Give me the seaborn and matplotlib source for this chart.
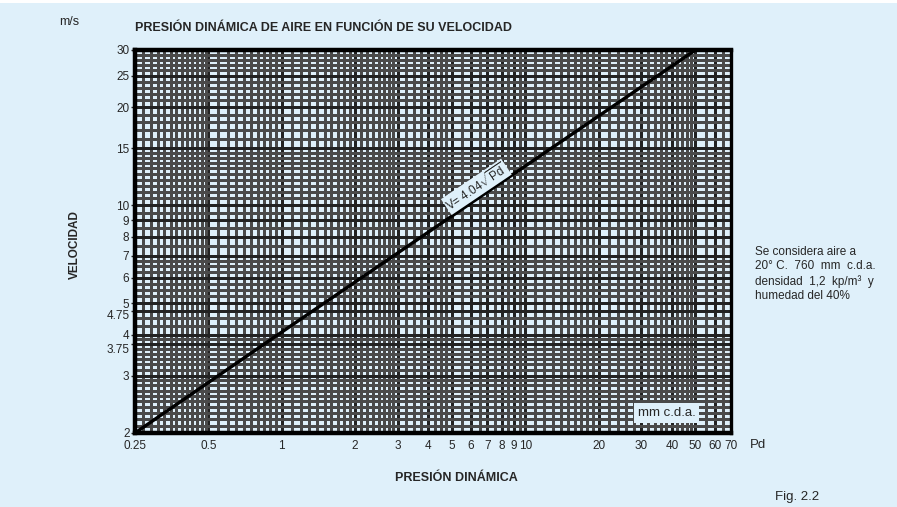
import matplotlib
matplotlib.use("Agg")
import matplotlib.pyplot as plt
import matplotlib.transforms as mtransforms
import numpy as np
import pandas as pd
import seaborn as sns
from matplotlib.ticker import FixedLocator, NullFormatter

# line (V = 4.04 * sqrt(Pd))
pd_values = [0.25, 1.0, 50.0]
v_values = [2.0, 4.08, 30.0]

x_ticks = [0.25, 0.5, 1, 2, 3, 4, 5, 6, 7, 8, 9, 10, 20, 30, 40, 50, 60, 70]
x_labels = ["0.25", "0.5", "1", "2", "3", "4", "5", "6", "7", "8", "9", "10",
            "20", "30", "40", "50", "60", "70"]
y_ticks = [2, 3, 3.75, 4, 4.75, 5, 6, 7, 8, 9, 10, 15, 20, 25, 30]
y_labels = ["2", "3", "3.75", "4", "4.75", "5", "6", "7", "8", "9", "10",
            "15", "20", "25", "30"]

bg = "#dff0fa"

sns.set_theme(style="ticks")
plt.rcParams["font.family"] = ["Liberation Sans", "DejaVu Sans"]
plt.rcParams["mathtext.fontset"] = "custom"
plt.rcParams["mathtext.rm"] = "Liberation Sans"

fig = plt.figure(figsize=(8.97, 5.07), dpi=100, facecolor=bg)
ax = fig.add_axes([0.1505, 0.146, 0.6645, 0.7554])
ax.set_facecolor(bg)

line_df = pd.DataFrame({"Pd": pd_values, "V": v_values})
sns.lineplot(data=line_df, x="Pd", y="V", ax=ax, color="black", lw=2.4, zorder=5)

ax.set_xscale("log")
ax.set_yscale("log")
ax.set_xlim(0.25, 70)
ax.set_ylim(2, 30)

# log-paper grid, about 7 px between lines
xgrid = np.concatenate([
    np.arange(0.25, 0.5, 0.02), np.arange(0.5, 1, 0.05), np.arange(1, 2, 0.1),
    np.arange(2, 3, 0.125), np.arange(3, 5, 0.25), np.arange(5, 10, 0.5),
    np.arange(10, 20, 1), np.arange(20, 50, 2), np.arange(50, 70, 5),
])
ygrid = np.concatenate([
    np.arange(2, 3, 0.1), np.arange(3, 4, 0.125), np.arange(4, 5, 0.25),
    np.arange(5, 7, 0.25), np.arange(7, 10, 0.5), np.arange(10, 15, 0.5),
    np.arange(15, 30, 1),
])
ax.xaxis.set_minor_locator(FixedLocator(xgrid))
ax.yaxis.set_minor_locator(FixedLocator(ygrid))
ax.xaxis.set_minor_formatter(NullFormatter())
ax.yaxis.set_minor_formatter(NullFormatter())
ax.set_xticks(x_ticks)
ax.set_xticklabels(x_labels)
ax.set_yticks(y_ticks)
ax.set_yticklabels(y_labels)
ax.tick_params(which="minor", length=0)
ax.tick_params(axis="y", which="major", length=3, width=1, pad=1, labelsize=8.5)
ax.tick_params(axis="x", which="major", length=0, pad=5, labelsize=8.5)
ax.grid(which="minor", color="#4a4a4a", lw=1.0, antialiased=False)
ax.grid(which="major", color="#222222", lw=1.0, antialiased=False)
ax.set_axisbelow(True)
for s in ax.spines.values():
    s.set_linewidth(3.2)
    s.set_color("black")
ax.spines["right"].set_linewidth(2.4)
ax.set_xlabel("")
ax.set_ylabel("")

# push the 3.75 / 4.75 labels down a little so they don't collide
shift = mtransforms.ScaledTranslation(0, -4 / 100, fig.dpi_scale_trans)
for lab in ax.get_yticklabels():
    if lab.get_text() in ("3.75", "4.75"):
        lab.set_transform(lab.get_transform() + shift)

ax.text(6.3, 11.4, r"V= 4.04$\sqrt{\mathregular{Pd}}$", rotation=34, ha="center",
        va="center", fontsize=8.5, zorder=6,
        bbox=dict(boxstyle="square,pad=0.1", fc=bg, ec="none"))
ax.text(38, 2.3, "mm c.d.a.", ha="center", va="center", fontsize=9.5, zorder=6,
        bbox=dict(boxstyle="square,pad=0.3", fc=bg, ec="none"))

fig.text(0.1505, 0.945, "PRESIÓN DINÁMICA DE AIRE EN FUNCIÓN DE SU VELOCIDAD",
         ha="left", va="center", fontsize=9, fontweight="bold")
fig.text(69 / 897, 1 - 22 / 507, "m/s", ha="center", va="center", fontsize=9)
fig.text(75 / 897, 1 - 245 / 507, "VELOCIDAD", ha="center", va="center",
         rotation=90, fontsize=8.5, fontweight="bold")
fig.text(456 / 897, 1 - 478 / 507, "PRESIÓN DINÁMICA", ha="center", va="center",
         fontsize=9, fontweight="bold")
fig.text(750 / 897, 1 - 445 / 507, "Pd", ha="left", va="center", fontsize=9.5)
fig.text(775 / 897, 1 - 497 / 507, "Fig. 2.2", ha="left", va="center", fontsize=9.5)
fig.text(755 / 897, 1 - 246 / 507,
         "Se considera aire a\n20° C.  760  mm  c.d.a.\ndensidad  1,2  kp/m³  y\nhumedad del 40%",
         ha="left", va="top", fontsize=8.5, linespacing=1.25)

# thin white strip at the very top
fig.patches.append(plt.Rectangle((0, 1 - 3 / 507), 1, 3 / 507, transform=fig.transFigure,
                                 fc="white", ec="none", zorder=-1))

fig.savefig("out.png", dpi=100, facecolor=bg)
